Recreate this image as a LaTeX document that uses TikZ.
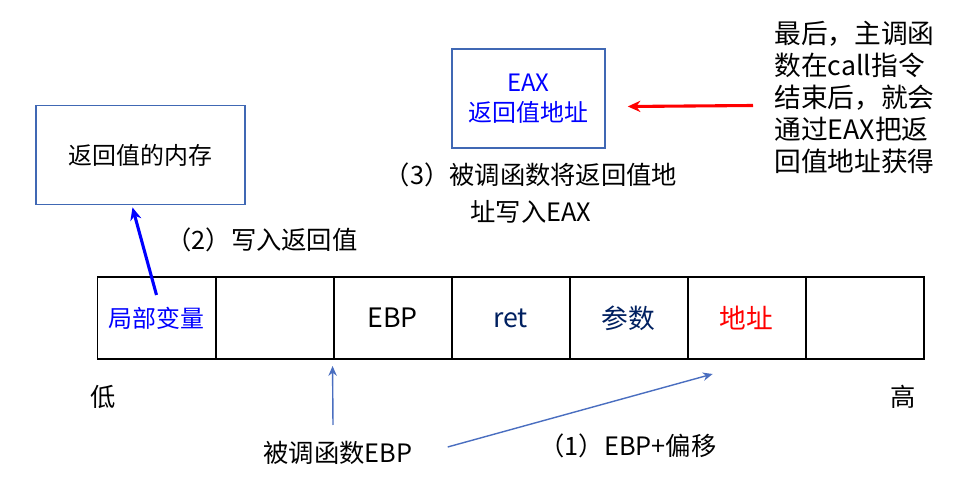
\documentclass[tikz,border=0pt]{standalone}
\usepackage{fontspec}
\setmainfont{Noto Sans CJK SC}
\usetikzlibrary{positioning,arrows.meta}
\definecolor{navy}{HTML}{002060}
\definecolor{boxblue}{HTML}{4068B4}
\definecolor{linkblue}{HTML}{4A6EC0}

\begin{document}
\begin{tikzpicture}[x=0.025cm,y=-0.025cm,
	cell/.style={draw,line width=1.4pt,outer sep=0,inner sep=0,minimum width=2.95cm,minimum height=2.05cm,font=\fontsize{19pt}{20pt}\selectfont},
	memo/.style={draw=boxblue,line width=1.2pt,inner sep=0,align=center,font=\fontsize{17pt}{22pt}\selectfont},
	note/.style={inner sep=0,font=\fontsize{18pt}{21pt}\selectfont},
	thin arrow/.style={linkblue,line width=1pt,-{Stealth[length=7pt,width=6pt]}},
	thick arrow/.style={line width=2.2pt,-{Stealth[length=9pt,width=8pt]}}]
	\useasboundingbox (0,0) rectangle (975,484);
	% stack cells
	\node[cell,font=\fontsize{17pt}{20pt}\selectfont] (lv) at (156.5,318) {\color{blue}局部变量};
	\node[cell,right=0pt of lv] (blank) {};
	\node[cell,right=0pt of blank] (ebp) {EBP};
	\node[cell,right=0pt of ebp] (ret) {\color{navy}ret};
	\node[cell,right=0pt of ret] (arg) {\color{navy}参数};
	\node[cell,right=0pt of arg] (addr) {\color{red}地址};
	\node[cell,right=0pt of addr] (top) {};
	\node[note] (low) at (103,397) {低};
	\node[note] (high) at (903,397) {高};
	% boxes
	\node[memo,minimum width=5.22cm,minimum height=2.48cm] (mem) at (140.5,155) {返回值的内存};
	\node[memo,minimum width=3.82cm,minimum height=2.48cm] (eax) at (528.5,98.5) {\color{blue}EAX\\[-1pt]\color{blue}返回值地址};
	% labels
	\node[note] (step2) at (262,240) {（2）写入返回值};
	\node[note,align=center] (step3) at (531,193) {（3）被调函数将返回值地\\[5pt]址写入EAX};
	\node[note] (ebpl) at (338,453) {被调函数EBP};
	\node[note] (step1) at (628,446) {（1）EBP+偏移};
	\node[note,anchor=west,align=left,font=\fontsize{19pt}{22.7pt}\selectfont] (final) at (774,97.5) {最后，主调函\\数在call指令\\结束后，就会\\通过EAX把返\\回值地址获得};
	% arrows
	\draw[thick arrow,blue] ([shift={(0,18)}]lv.north) -- ([shift={(-8,2)}]mem.south);
	\draw[thick arrow,red] ([shift={(-21,8)}]final.west) -- ([shift={(22,8)}]eax.east);
	\coordinate (ebpfoot) at (333,425);
	\draw[thin arrow] (ebpfoot) -- ([shift={(-1,7)}]ebp.south west);
	\draw[thin arrow] ([shift={(35,-6)}]ebpl.east) -- ([shift={(25,15)}]addr.south west);
\end{tikzpicture}
\end{document}
